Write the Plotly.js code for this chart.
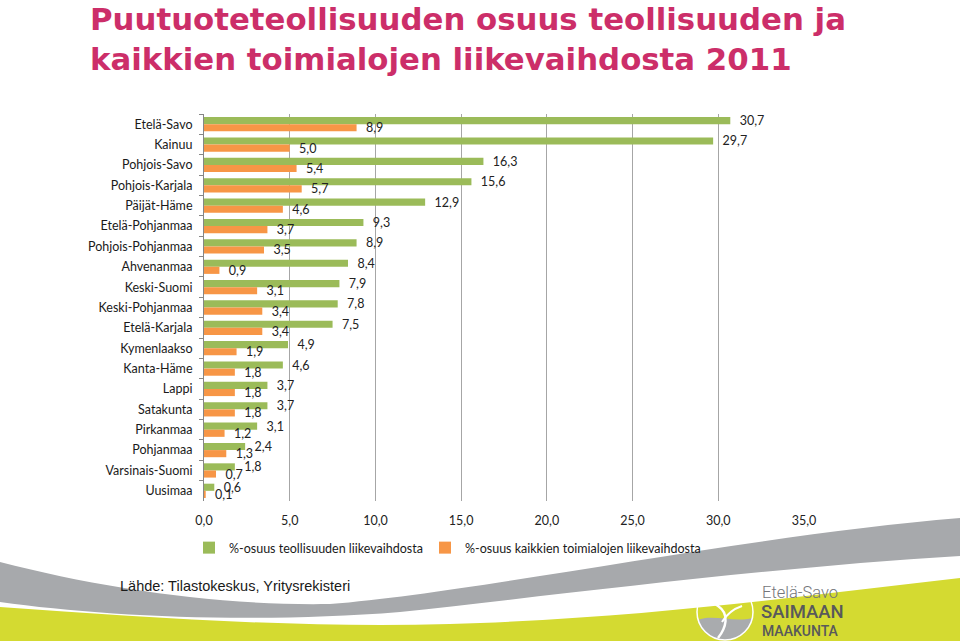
<!DOCTYPE html>
<html>
<head>
<meta charset="utf-8">
<script src="https://cdn.plot.ly/plotly-3.0.1.min.js"></script>
<style>
    html, body { margin: 0; padding: 0; background: #ffffff; }
    #chartDiv { width: 960px; height: 641px; }
</style>
</head>
<body>
<div id="chartDiv"></div>
<script>
// regions, top to bottom as in the picture
const regions = [
    "Etelä-Savo", "Kainuu", "Pohjois-Savo", "Pohjois-Karjala", "Päijät-Häme",
    "Etelä-Pohjanmaa", "Pohjois-Pohjanmaa", "Ahvenanmaa", "Keski-Suomi",
    "Keski-Pohjanmaa", "Etelä-Karjala", "Kymenlaakso", "Kanta-Häme", "Lappi",
    "Satakunta", "Pirkanmaa", "Pohjanmaa", "Varsinais-Suomi", "Uusimaa"
];

// %-share of the industry turnover
const share_industry = [
    30.7, 29.7, 16.3, 15.6, 12.9, 9.3, 8.9, 8.4, 7.9, 7.8, 7.5,
    4.9, 4.6, 3.7, 3.7, 3.1, 2.4, 1.8, 0.6
];

// %-share of the turnover of all branches
const share_all = [
    8.9, 5.0, 5.4, 5.7, 4.6, 3.7, 3.5, 0.9, 3.1, 3.4, 3.4,
    1.9, 1.8, 1.8, 1.8, 1.2, 1.3, 0.7, 0.1
];

const series_names = [
    "%-osuus teollisuuden liikevaihdosta",
    "%-osuus kaikkien toimialojen liikevaihdosta"
];

const x_ticks = [0, 5, 10, 15, 20, 25, 30, 35];

// plot area in pixels, used to place the decoration around it
const L = 204, R = 804, T = 114, B = 501;
const px = x => (x - L) / (R - L);
const py = y => (B - y) / (B - T);

// turn a list of [cmd, [x, y] ...] into a path in paper coords
function paperPath(parts) {
    return parts.map(p => {
        if (typeof p === "string") return p;
        return px(p[0]).toFixed(4) + "," + py(p[1]).toFixed(4);
    }).join(" ");
}

const labelFont = { family: "Lato, sans-serif", size: 12.5, color: "#222222" };
// a little extra room between bar end and its label
const labelTemplate = "\u00A0\u00A0%{x:.1f}";

//--- BEGIN TRACES -------------------------------------------------------------
const traceIndustry = {
    type         : "bar",
    orientation  : "h",
    name         : series_names[0],
    legend       : "legend",
    y            : regions,
    x            : share_industry,
    marker       : { color: "#9BBB59" },
    texttemplate : labelTemplate,
    textposition : "outside",
    constraintext: "none",
    cliponaxis   : false,
    textfont     : labelFont,
    hoverinfo    : "none"
};

const traceAll = {
    type         : "bar",
    orientation  : "h",
    name         : series_names[1],
    legend       : "legend2",
    y            : regions,
    x            : share_all,
    marker       : { color: "#F79646" },
    texttemplate : labelTemplate,
    textposition : "outside",
    constraintext: "none",
    cliponaxis   : false,
    textfont     : labelFont,
    hoverinfo    : "none"
};
//--- END TRACES ---------------------------------------------------------------

//--- BEGIN DECORATION (swoosh + logo) -----------------------------------------
const shapes = [
    // gray swoosh
    {
        type: "path", xref: "paper", yref: "paper", layer: "below",
        fillcolor: "#A7A9AC", line: { width: 0 },
        path: paperPath([
            "M", [0, 562],
            "C", [100, 588], [220, 606], [330, 604],
            "C", [480, 592], [750, 535], [960, 518],
            "L", [960, 556],
            "C", [760, 568], [560, 595], [400, 612],
            "C", [250, 624], [100, 616], [0, 602],
            "Z"
        ])
    },
    // yellow-green wave
    {
        type: "path", xref: "paper", yref: "paper", layer: "below",
        fillcolor: "#D4DA31", line: { width: 0 },
        path: paperPath([
            "M", [0, 607],
            "C", [150, 618], [300, 628], [450, 624],
            "C", [650, 618], [800, 596], [960, 578],
            "L", [960, 641], "L", [0, 641], "Z"
        ])
    },
    // logo: water in the lower part of the circle
    {
        type: "path", xref: "paper", yref: "paper", layer: "below",
        fillcolor: "#A9ABAE", line: { width: 0 },
        path: paperPath([
            "M", [698, 620],
            "C", [712, 614], [736, 623], [752, 618],
            "C", [750, 632], [738, 640], [725, 640],
            "C", [712, 640], [700, 632], [698, 620],
            "Z"
        ])
    },
    // logo: circle
    {
        type: "circle", xref: "paper", yref: "paper", layer: "below",
        x0: px(697), x1: px(753), y0: py(640), y1: py(584),
        line: { color: "#ffffff", width: 1.5 }
    },
    // logo: the white curl
    {
        type: "path", xref: "paper", yref: "paper", layer: "below",
        line: { color: "#ffffff", width: 2.5 },
        path: paperPath([
            "M", [731, 590],
            "C", [714, 586], [706, 598], [718, 606],
            "C", [730, 614], [726, 628], [718, 638]
        ])
    },
    {
        type: "path", xref: "paper", yref: "paper", layer: "below",
        line: { color: "#ffffff", width: 2 },
        path: paperPath([
            "M", [722, 622],
            "C", [728, 612], [736, 608], [742, 606]
        ])
    }
];

const annotations = [
    {
        text: "Lähde: Tilastokeskus, Yritysrekisteri",
        xref: "paper", yref: "paper", x: px(118), y: py(586),
        xanchor: "left", yanchor: "middle", showarrow: false,
        font: { family: "Liberation Sans, Arial, sans-serif", size: 14.5, color: "#1a1a1a" }
    },
    {
        text: "Etelä-Savo",
        xref: "paper", yref: "paper", x: px(760), y: py(592),
        xanchor: "left", yanchor: "middle", showarrow: false,
        font: { family: "Roboto, sans-serif", size: 16.5, color: "#74767A", weight: 300 }
    },
    {
        text: "SAIMAAN",
        xref: "paper", yref: "paper", x: px(759), y: py(612),
        xanchor: "left", yanchor: "middle", showarrow: false,
        font: { family: "Roboto, sans-serif", size: 18.5, color: "#58595B", weight: 500 }
    },
    {
        text: "MAAKUNTA",
        xref: "paper", yref: "paper", x: px(760), y: py(631),
        xanchor: "left", yanchor: "middle", showarrow: false,
        font: { family: "Roboto, sans-serif", size: 14, color: "#58595B", weight: 500 }
    }
];
//--- END DECORATION -----------------------------------------------------------

const legendFont = { family: "Lato, sans-serif", size: 12.5, color: "#1a1a1a" };

const layout = {
    width        : 960,
    height       : 641,
    margin       : { l: L, r: 960 - R, t: T, b: 641 - B },
    paper_bgcolor: "#ffffff",
    plot_bgcolor : "rgba(0,0,0,0)",
    separators   : ", ",
    barmode      : "group",
    bargap       : 0.3,
    bargroupgap  : 0,
    showlegend   : true,
    title: {
        text   : "<b>Puutuoteteollisuuden osuus teollisuuden ja<br>kaikkien toimialojen liikevaihdosta 2011</b>",
        xref   : "container", x: 90 / 960, xanchor: "left",
        yref   : "container", y: 1 - 30 / 641, yanchor: "top",
        font   : { family: "DejaVu Sans, sans-serif", size: 30.8, color: "#CC2E69" }
    },
    xaxis: {
        range     : [0, 35],
        tickvals  : x_ticks,
        tickformat: ".1f",
        showgrid  : true,
        gridcolor : "#A6A6A6",
        gridwidth : 1,
        zeroline  : false,
        showline  : false,
        ticks     : "",
        ticklabelstandoff: 10,
        tickfont  : { family: "Lato, sans-serif", size: 12.5, color: "#222222" },
        fixedrange: true
    },
    yaxis: {
        type      : "category",
        autorange : "reversed",
        tickson   : "boundaries",
        ticks     : "outside",
        ticklen   : 4,
        tickcolor : "#868686",
        showline  : true,
        linecolor : "#868686",
        linewidth : 1,
        showgrid  : false,
        ticklabelstandoff: 8,
        tickfont  : { family: "Lato, sans-serif", size: 12.5, color: "#1a1a1a" },
        fixedrange: true
    },
    // one legend per series, so each entry can sit where the picture has it
    legend: {
        orientation : "h",
        x           : px(189), xanchor: "left",
        y           : py(548), yanchor: "middle",
        bgcolor     : "rgba(0,0,0,0)",
        font        : legendFont
    },
    legend2: {
        orientation : "h",
        x           : px(425), xanchor: "left",
        y           : py(548), yanchor: "middle",
        bgcolor     : "rgba(0,0,0,0)",
        font        : legendFont
    },
    shapes     : shapes,
    annotations: annotations
};

Plotly.newPlot("chartDiv", [traceIndustry, traceAll], layout, { displayModeBar: false, staticPlot: true });
</script>
</body>
</html>
